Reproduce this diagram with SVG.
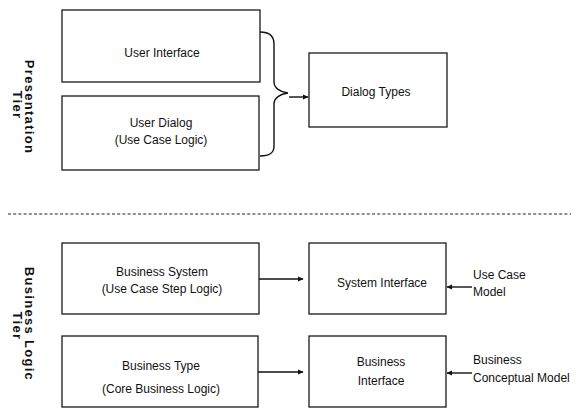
<svg xmlns="http://www.w3.org/2000/svg" width="577" height="409" viewBox="0 0 577 409">
<style>
.box{fill:#fff;stroke:#1a1a1a;stroke-width:1.3}
.t{font-family:"Liberation Sans",Arial,sans-serif;font-size:12px;fill:#111;text-anchor:middle}
.l{font-family:"Liberation Sans",Arial,sans-serif;font-size:12px;fill:#111}
.tier{font-family:"Liberation Sans",Arial,sans-serif;font-size:13px;font-weight:bold;fill:#111;text-anchor:middle;letter-spacing:1.3px}
.c{fill:none;stroke:#111;stroke-width:1.4}
</style>
<defs>
<marker id="ah" markerWidth="6" markerHeight="6" refX="5" refY="3" orient="auto" markerUnits="userSpaceOnUse">
<path d="M0,0.5 L5.5,3 L0,5.5 Z" fill="#111"/>
</marker>
</defs>
<g id="tier-presentation">
<text class="tier" transform="translate(25,107) rotate(90)">Presentation</text>
<text class="tier" transform="translate(13,105) rotate(90)">Tier</text>
</g>
<g id="tier-business">
<text class="tier" transform="translate(25,324) rotate(90)">Business Logic</text>
<text class="tier" transform="translate(13,326) rotate(90)">Tier</text>
</g>
<line x1="8" y1="214" x2="571" y2="214" stroke="#222" stroke-width="1.2" stroke-dasharray="3,2.2"/>
<g id="user-interface">
<rect class="box" x="62" y="10" width="198" height="72"/>
<text class="t" x="162" y="57">User Interface</text>
</g>
<g id="user-dialog">
<rect class="box" x="62" y="96" width="197" height="74"/>
<text class="t" x="161" y="127">User Dialog</text>
<text class="t" x="161" y="144">(Use Case Logic)</text>
</g>
<g id="dialog-types">
<rect class="box" x="309" y="53" width="138" height="74"/>
<text class="t" x="376" y="96">Dialog Types</text>
</g>
<g id="business-system">
<rect class="box" x="62" y="243" width="197" height="71"/>
<text class="t" x="162" y="276">Business System</text>
<text class="t" x="162" y="293">(Use Case Step Logic)</text>
</g>
<g id="business-type">
<rect class="box" x="62" y="336" width="196" height="71"/>
<text class="t" x="161" y="370">Business Type</text>
<text class="t" x="161" y="393">(Core Business Logic)</text>
</g>
<g id="system-interface">
<rect class="box" x="309" y="243" width="137" height="71"/>
<text class="t" x="382" y="287">System Interface</text>
</g>
<g id="business-interface">
<rect class="box" x="309" y="336" width="137" height="71"/>
<text class="t" x="381" y="366">Business</text>
<text class="t" x="381" y="385">Interface</text>
</g>
<g id="use-case-model">
<text class="l" x="473" y="279">Use Case</text>
<text class="l" x="473" y="296">Model</text>
</g>
<g id="business-conceptual-model">
<text class="l" x="473" y="364">Business</text>
<text class="l" x="473" y="382">Conceptual Model</text>
</g>
<g id="connectors">
<path class="c" d="M260,32 C270,32 274,36 274,44 L274,82 C274,88 280,92 288,93 C280,94 274,98 274,104 L274,146 C274,153 270,156 260,156"/>
<line class="c" x1="289" y1="97" x2="308" y2="97" marker-end="url(#ah)"/>
<line class="c" x1="259" y1="279" x2="303" y2="279" marker-end="url(#ah)"/>
<line class="c" x1="258" y1="372" x2="303" y2="372" marker-end="url(#ah)"/>
<line class="c" x1="472" y1="287" x2="447" y2="287" marker-end="url(#ah)"/>
<line class="c" x1="472" y1="373" x2="447" y2="373" marker-end="url(#ah)"/>
</g>
</svg>
